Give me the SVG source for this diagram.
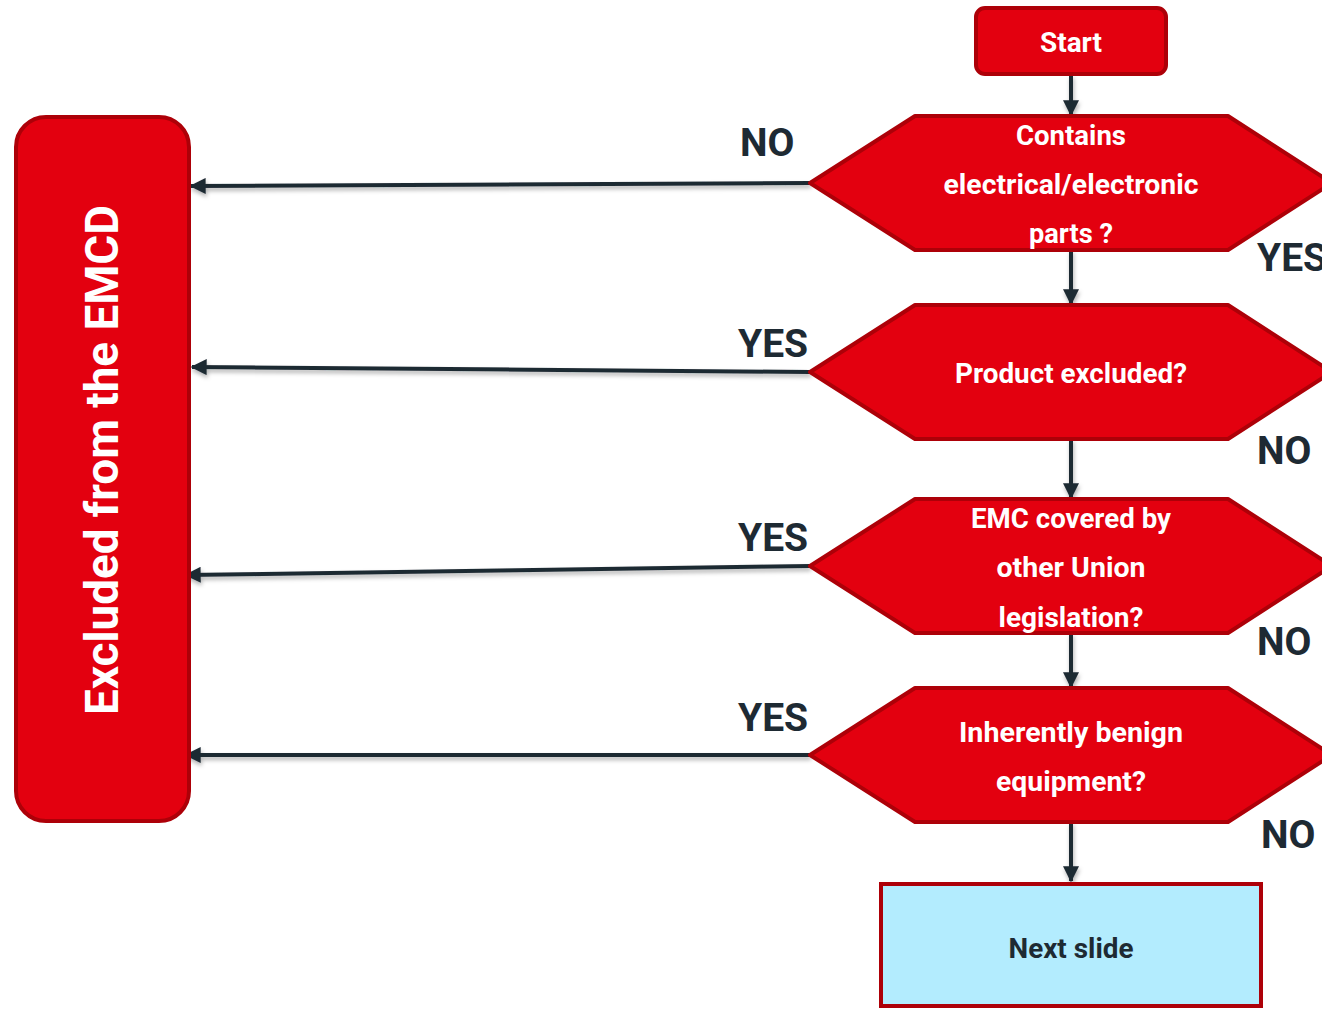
<svg xmlns="http://www.w3.org/2000/svg" width="1322" height="1009" viewBox="0 0 1322 1009">
<defs>
<marker id="arr" viewBox="0 0 12 12" refX="11" refY="6" markerWidth="4" markerHeight="4" orient="auto" markerUnits="strokeWidth">
<path d="M0,0 L12,6 L0,12 z" fill="#1e2a33"/>
</marker>
<filter id="sh" x="-5%" y="-50%" width="110%" height="300%">
<feDropShadow dx="1" dy="3" stdDeviation="2" flood-color="#000" flood-opacity="0.3"/>
</filter>
</defs>
<style>
.red{fill:#e3000f;stroke:#ad0008;stroke-width:4;stroke-linejoin:round}
.wt{font-family:Roboto,"Liberation Sans",sans-serif;font-weight:bold;font-size:27px;fill:#ffffff;text-anchor:middle;dominant-baseline:central}
.lbl{font-family:Roboto,"Liberation Sans",sans-serif;font-weight:bold;font-size:39px;fill:#1e2a33;dominant-baseline:central}
.ln{stroke:#1e2a33;stroke-width:4;fill:none;marker-end:url(#arr)}
</style>
<g id="connectors" filter="url(#sh)">
<line class="ln" x1="1071" y1="75" x2="1071" y2="115"/>
<line class="ln" x1="1071" y1="250" x2="1071" y2="304"/>
<line class="ln" x1="1071" y1="439" x2="1071" y2="498"/>
<line class="ln" x1="1071" y1="633" x2="1071" y2="687"/>
<line class="ln" x1="1071" y1="822" x2="1071" y2="881"/>
<line class="ln" x1="810" y1="183" x2="191" y2="186"/>
<line class="ln" x1="810" y1="372" x2="192" y2="367"/>
<line class="ln" x1="810" y1="566" x2="186" y2="575"/>
<line class="ln" x1="810" y1="755" x2="186" y2="755"/>
</g>
<g id="start">
<rect class="red" x="976" y="8" width="190" height="66" rx="9"/>
<text class="wt" x="1071" y="43" textLength="62" lengthAdjust="spacingAndGlyphs">Start</text>
</g>
<g id="excluded">
<rect class="red" x="16" y="117" width="173" height="704" rx="30"/>
<text class="wt" transform="translate(102,460) rotate(-90)" x="0" y="0" style="font-size:46px" textLength="510" lengthAdjust="spacingAndGlyphs">Excluded from the EMCD</text>
</g>
<g id="q1">
<polygon class="red" points="810,183 915,116 1228,116 1332,183 1228,250 915,250"/>
<text class="wt" x="1071" y="136" textLength="110" lengthAdjust="spacingAndGlyphs">Contains</text>
<text class="wt" x="1071" y="185" textLength="255" lengthAdjust="spacingAndGlyphs">electrical/electronic</text>
<text class="wt" x="1071" y="234" textLength="84" lengthAdjust="spacingAndGlyphs">parts ?</text>
</g>
<g id="q2">
<polygon class="red" points="810,372 915,305 1228,305 1332,372 1228,439 915,439"/>
<text class="wt" x="1071" y="374" textLength="232" lengthAdjust="spacingAndGlyphs">Product excluded?</text>
</g>
<g id="q3">
<polygon class="red" points="810,566 915,499 1228,499 1332,566 1228,633 915,633"/>
<text class="wt" x="1071" y="519" textLength="200" lengthAdjust="spacingAndGlyphs">EMC covered by</text>
<text class="wt" x="1071" y="568" textLength="149" lengthAdjust="spacingAndGlyphs">other Union</text>
<text class="wt" x="1071" y="618" textLength="145" lengthAdjust="spacingAndGlyphs">legislation?</text>
</g>
<g id="q4">
<polygon class="red" points="810,755 915,688 1228,688 1332,755 1228,822 915,822"/>
<text class="wt" x="1071" y="733" textLength="224" lengthAdjust="spacingAndGlyphs">Inherently benign</text>
<text class="wt" x="1071" y="782" textLength="150" lengthAdjust="spacingAndGlyphs">equipment?</text>
</g>
<g id="next">
<rect x="881" y="884" width="380" height="122" fill="#b3ecfe" stroke="#ad0008" stroke-width="4"/>
<text class="wt" x="1071" y="949" style="fill:#1e2a33" textLength="125" lengthAdjust="spacingAndGlyphs">Next slide</text>
</g>
<g id="labels">
<text class="lbl" x="740" y="143">NO</text>
<text class="lbl" x="738" y="344">YES</text>
<text class="lbl" x="738" y="538">YES</text>
<text class="lbl" x="738" y="718">YES</text>
<text class="lbl" x="1257" y="258">YES</text>
<text class="lbl" x="1257" y="451">NO</text>
<text class="lbl" x="1257" y="642">NO</text>
<text class="lbl" x="1261" y="835">NO</text>
</g>
</svg>
